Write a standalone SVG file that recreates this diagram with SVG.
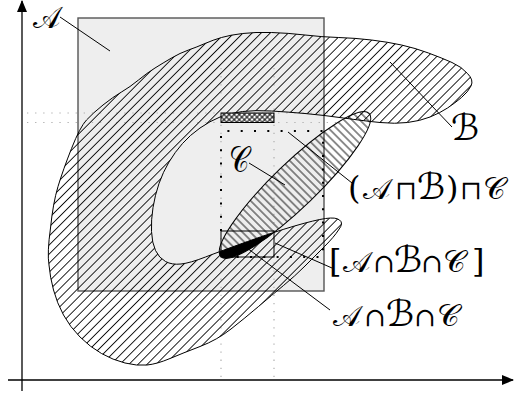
<svg xmlns="http://www.w3.org/2000/svg" width="515" height="396" viewBox="0 0 515 396">
<style>
.lbl{font-family:"DejaVu Serif","Liberation Serif","DejaVu Sans",serif;font-style:normal;font-weight:normal;fill:#000}
.op{font-size:26px}
.br{font-size:32px}
.sa{font-size:29px}
.sb{font-size:36px}
.sc{font-size:31px}
.ldr{stroke:#000;stroke-width:1;fill:none}
.proj{stroke:#b0b0b0;stroke-width:1.2;stroke-dasharray:1.3 6.8;fill:none}
.shape{stroke:#000;stroke-width:1}
</style>
<defs>
<pattern id="hB" width="6.4" height="10" patternUnits="userSpaceOnUse" patternTransform="rotate(45)"><line x1="3.2" y1="0" x2="3.2" y2="10" stroke="#000" stroke-width="0.9"/></pattern>
<pattern id="hC" width="5.6" height="10" patternUnits="userSpaceOnUse" patternTransform="rotate(-1)"><line x1="2.8" y1="0" x2="2.8" y2="10" stroke="#000" stroke-width="0.9"/></pattern>
<pattern id="xh" width="3.6" height="3.6" patternUnits="userSpaceOnUse" patternTransform="rotate(45)"><rect width="3.6" height="3.6" fill="#fff"/><path d="M0,1.8H3.6M1.8,0V3.6" stroke="#000" stroke-width="1"/></pattern>
<path id="Bpath" d="M 242.5,33.5 Q 255,32 271.5,32.5 Q 288,33 305,35 Q 322,37 338.5,37.5 Q 355,38 371.5,40 Q 388,42 401.5,45 Q 415,48 428.5,53 Q 442,58 452,62.5 Q 462,67 467.5,73.5 Q 474,80 471,86 Q 468,92 461.5,97.5 Q 455,103 447.5,108 Q 440,113 430,117 Q 420,121 407.5,122.5 Q 395,124 380,122.5 Q 365,121 343.5,118 Q 322,115 305,113.5 Q 288,112 271.5,111 Q 255,110 242.5,111.5 Q 230,113 220,117 Q 210,121 200,128 Q 190,135 182.5,143.5 Q 175,152 169,162 Q 163,172 159,183.5 Q 155,195 153,207.5 Q 151,220 151.5,231.5 Q 152,243 155.5,250.5 Q 159,258 165.5,261.5 Q 172,265 181,264 Q 190,263 205.5,257 Q 221,251 247.5,241.5 Q 274,232 294.5,226 Q 315,220 325.5,218.5 Q 336,217 339.5,220 Q 344,223 338.5,230 Q 334,237 324.5,246.5 Q 315,256 305,266 Q 295,276 283.5,285.5 Q 272,295 258.5,306.5 Q 245,318 231,329 Q 217,340 200,346.5 Q 183,353 170,358.5 Q 157,364 147,365 Q 137,366 125,363 Q 113,360 101.5,353.5 Q 90,347 80,337 Q 70,327 63.5,315 Q 57,303 53.5,290 Q 50,277 49,265 Q 47,253 50.5,228 Q 53,203 58,186.5 Q 63,170 71.5,148.5 Q 80,127 86.5,120 Q 93,113 103,105 Q 113,97 121.5,92 Q 130,87 138.5,80 Q 147,73 155,68 Q 163,63 171.5,58 Q 180,53 188.5,50 Q 197,47 205,43.5 Q 213,40 221.5,37.5 Q 230,35 242.5,33.5 Z"/>
<clipPath id="clipB"><use href="#Bpath"/></clipPath>
<clipPath id="clipA"><rect x="78" y="18" width="246" height="273"/></clipPath>
<marker id="arr" viewBox="0 0 12 10" refX="11" refY="5" markerWidth="12" markerHeight="10" markerUnits="userSpaceOnUse" orient="auto"><path d="M0,0 L12,5 L0,10 Z" fill="#000"/></marker>
</defs>

<g id="A">
<rect x="78" y="18" width="246" height="273" fill="#eeeeee" stroke="#555" stroke-width="1.4"/>
</g>

<g id="projections">
<line class="proj" x1="27" y1="113" x2="345" y2="113"/>
<line class="proj" x1="27" y1="122.5" x2="340" y2="122.5"/>
<line class="proj" x1="221" y1="68" x2="221" y2="377"/>
<line class="proj" x1="274" y1="68" x2="274" y2="377"/>
</g>

<g id="B">
<use href="#Bpath" fill="url(#hB)" class="shape"/>
</g>

<g id="C">
<ellipse cx="295" cy="185" rx="103" ry="22" transform="rotate(-44 295 185)" fill="url(#hC)" class="shape"/>
</g>

<g id="ABC">
<g clip-path="url(#clipA)"><g clip-path="url(#clipB)">
<ellipse cx="295" cy="185" rx="103" ry="22" transform="rotate(-44 295 185)" fill="#000"/>
</g></g>
</g>

<g id="boxes">
<rect id="projbox" x="221" y="113" width="53" height="9.5" fill="url(#xh)" stroke="#000" stroke-width="1"/>
<path id="meetbox" d="M221,231 V131 H323 V257 H221" fill="none" stroke="#000" stroke-width="2" stroke-dasharray="2 11.3"/>
<rect id="bbox" x="221" y="231" width="53" height="26" fill="none" stroke="#000" stroke-width="1"/>
</g>

<g id="connectors">
<line class="ldr" x1="60" y1="17" x2="110" y2="51"/>
<line class="ldr" x1="390" y1="62" x2="452" y2="127"/>
<line class="ldr" x1="249" y1="163" x2="285" y2="185"/>
<line class="ldr" x1="288" y1="132" x2="352" y2="183"/>
<line class="ldr" x1="275" y1="243" x2="332" y2="268"/>
<line class="ldr" x1="243" y1="245" x2="330" y2="310"/>
</g>

<g id="axes">
<line x1="22" y1="391" x2="22" y2="1" stroke="#000" stroke-width="1.3" marker-end="url(#arr)"/>
<line x1="8" y1="380" x2="513" y2="380" stroke="#000" stroke-width="1.3" marker-end="url(#arr)"/>
</g>

<g id="labels">
<text class="lbl" x="33" y="28" font-size="30" textLength="27" lengthAdjust="spacingAndGlyphs">𝒜</text>
<text class="lbl" x="451" y="140" font-size="36">ℬ</text>
<text class="lbl" x="229" y="172" font-size="36" textLength="20" lengthAdjust="spacingAndGlyphs">𝒞</text>
<text class="lbl" y="199"><tspan class="br" x="348">(</tspan><tspan class="sa" x="363">𝒜</tspan><tspan class="op" x="395">⊓</tspan><tspan class="sb" x="417">ℬ</tspan><tspan class="br" x="446">)</tspan><tspan class="op" x="460">⊓</tspan><tspan class="sc" x="483">𝒞</tspan></text>
<text class="lbl" y="272"><tspan class="br" x="329">[</tspan><tspan class="sa" x="343">𝒜</tspan><tspan class="op" x="373">∩</tspan><tspan class="sb" x="394">ℬ</tspan><tspan class="op" x="421">∩</tspan><tspan class="sc" x="443">𝒞</tspan><tspan class="br" x="472">]</tspan></text>
<text class="lbl" y="326"><tspan class="sa" x="333">𝒜</tspan><tspan class="op" x="364">∩</tspan><tspan class="sb" x="386">ℬ</tspan><tspan class="op" x="414">∩</tspan><tspan class="sc" x="437">𝒞</tspan></text>
</g>
</svg>
